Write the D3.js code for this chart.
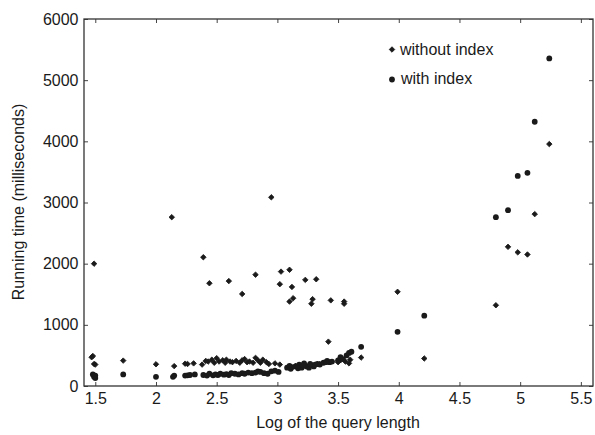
<!DOCTYPE html>
<html>
<head>
<meta charset="utf-8">
<script src="https://cdn.jsdelivr.net/npm/d3@7/dist/d3.min.js"></script>
<style>
  body { margin: 0; background: #fff; }
  svg text { font-family: "Liberation Sans", Arial, sans-serif; fill: #1a1a1a; }
</style>
</head>
<body>
<div id="plot"></div>
<script>
// Running time vs log of query length, two series
const withoutIndex = [
    // outliers
    [1.49, 2000], [2.13, 2760], [2.39, 2105], [2.44, 1680], [2.60, 1715], [2.71, 1505],
    [2.82, 1820], [2.95, 3085], [3.02, 1665], [3.03, 1870], [3.10, 1900], [3.12, 1620],
    [3.10, 1380], [3.13, 1435], [3.23, 1735], [3.32, 1745], [3.28, 1345], [3.29, 1420],
    [3.44, 1400], [3.55, 1345], [3.55, 1380], [3.99, 1540], [4.21, 450], [4.80, 1320],
    [4.90, 2275], [4.98, 2185], [5.06, 2150], [5.12, 2810], [5.24, 3955], [3.42, 725],
    [3.69, 465],
    // low band
    [1.48, 490], [1.47, 470], [1.49, 360], [1.50, 350], [1.73, 415], [2.00, 355],
    [2.15, 325], [2.24, 365], [2.26, 360], [2.31, 370], [2.38, 350], [2.41, 410],
    [2.43, 400], [2.46, 430], [2.48, 380], [2.50, 455], [2.52, 400], [2.55, 420],
    [2.57, 380], [2.58, 430], [2.61, 400], [2.63, 390], [2.66, 410], [2.69, 380],
    [2.71, 420], [2.73, 440], [2.75, 390], [2.77, 400], [2.80, 380], [2.82, 460],
    [2.84, 420], [2.86, 380], [2.88, 430], [2.91, 390], [2.93, 360], [2.98, 370],
    [3.02, 350], [3.50, 390], [3.52, 420], [3.56, 400], [3.60, 430], [3.59, 370],
    [3.15, 330], [3.25, 320], [3.35, 360]
];

const withIndex = [
    [1.48, 190], [1.49, 150], [1.50, 130], [1.50, 170], [1.73, 190], [2.00, 150],
    [2.14, 150], [2.15, 170], [2.24, 170], [2.26, 175], [2.28, 180], [2.32, 190],
    [2.39, 180], [2.42, 170], [2.44, 200], [2.47, 175], [2.49, 190], [2.51, 180],
    [2.53, 200], [2.56, 185], [2.58, 195], [2.60, 180], [2.62, 210], [2.65, 200],
    [2.68, 190], [2.71, 210], [2.73, 200], [2.76, 220], [2.79, 210], [2.82, 220],
    [2.84, 240], [2.86, 230], [2.89, 210], [2.92, 200], [2.95, 240], [2.98, 250],
    [3.01, 230], [3.08, 300], [3.10, 330], [3.11, 280], [3.15, 320], [3.18, 350],
    [3.20, 300], [3.22, 370], [3.24, 320], [3.26, 300], [3.28, 340], [3.30, 320],
    [3.33, 360], [3.35, 350], [3.38, 380], [3.41, 410], [3.43, 390], [3.45, 400],
    [3.50, 420], [3.52, 470], [3.54, 440], [3.57, 500], [3.59, 540], [3.61, 560],
    [3.69, 640], [3.99, 885], [4.21, 1150], [4.80, 2760], [4.90, 2875], [4.98, 3435],
    [5.06, 3485], [5.12, 4320], [5.24, 5355],
    [3.12, 310], [3.17, 290], [3.21, 340], [3.27, 360], [3.31, 350], [3.40, 390]
];

const xTicks = [1.5, 2, 2.5, 3, 3.5, 4, 4.5, 5, 5.5];
const yTicks = [0, 1000, 2000, 3000, 4000, 5000, 6000];
const seriesNames = ["without index", "with index"];

// Chart dimensions
const svgWidth = 595;
const svgHeight = 435;
const margin = { top: 19, right: 2, bottom: 49, left: 84 };
const width = svgWidth - margin.left - margin.right;
const height = svgHeight - margin.top - margin.bottom;

const svg = d3.select("#plot")
    .append("svg")
    .attr("width", svgWidth)
    .attr("height", svgHeight);

const g = svg.append("g")
    .attr("transform", `translate(${margin.left}, ${margin.top})`);

const xScale = d3.scaleLinear().domain([1.407, 5.6]).range([0, width]);
const yScale = d3.scaleLinear().domain([0, 6000]).range([height, 0]);

const fmt = d => String(d);

// Axes, ticks pointing inward
const xAxis = g.append("g")
    .attr("transform", `translate(0, ${height})`)
    .call(d3.axisBottom(xScale).tickValues(xTicks).tickFormat(fmt)
        .tickSize(-4).tickSizeOuter(0).tickPadding(6.6));
const yAxis = g.append("g")
    .call(d3.axisLeft(yScale).tickValues(yTicks).tickFormat(fmt)
        .tickSize(-4).tickSizeOuter(0).tickPadding(5.5));
const xTop = g.append("g")
    .call(d3.axisTop(xScale).tickValues(xTicks).tickFormat("")
        .tickSize(-4).tickSizeOuter(0));
const yRight = g.append("g")
    .attr("transform", `translate(${width}, 0)`)
    .call(d3.axisRight(yScale).tickValues(yTicks).tickFormat("")
        .tickSize(-4).tickSizeOuter(0));

[xAxis, yAxis, xTop, yRight].forEach(a => {
    a.select(".domain").remove();
    a.selectAll(".tick line").attr("stroke", "#444").attr("stroke-width", 1);
    a.selectAll(".tick text")
        .style("font-size", "16px")
        .attr("fill", "#1a1a1a");
});

// Frame
g.append("rect")
    .attr("x", 0)
    .attr("y", 0)
    .attr("width", width)
    .attr("height", height)
    .attr("fill", "none")
    .attr("stroke", "#333")
    .attr("stroke-width", 1.3);

// Markers
const diamond = d3.symbol().type(d3.symbolSquare).size(15);

g.selectAll(".without")
    .data(withoutIndex)
    .enter()
    .append("path")
    .attr("class", "without")
    .attr("d", diamond)
    .attr("transform", d => `translate(${xScale(d[0])}, ${yScale(d[1])}) rotate(45)`)
    .attr("fill", "#1a1a1a")
    .attr("stroke", "#1a1a1a")
    .attr("stroke-width", 0.8);

g.selectAll(".with")
    .data(withIndex)
    .enter()
    .append("circle")
    .attr("class", "with")
    .attr("cx", d => xScale(d[0]))
    .attr("cy", d => yScale(d[1]))
    .attr("r", 2.9)
    .attr("fill", "#1a1a1a");

// Legend
const legend = svg.append("g");
legend.append("path")
    .attr("d", diamond)
    .attr("transform", "translate(392, 49.5) rotate(45)")
    .attr("fill", "#1a1a1a")
    .attr("stroke", "#1a1a1a")
    .attr("stroke-width", 0.8);
legend.append("circle")
    .attr("cx", 392)
    .attr("cy", 79.5)
    .attr("r", 2.9)
    .attr("fill", "#1a1a1a");
legend.selectAll("text")
    .data(seriesNames)
    .enter()
    .append("text")
    .attr("x", (d, i) => i === 0 ? 400 : 401)
    .attr("y", (d, i) => i === 0 ? 55 : 83.5)
    .style("font-size", "16px")
    .text(d => d);

// Axis titles
svg.append("text")
    .attr("x", 338)
    .attr("y", 428)
    .attr("text-anchor", "middle")
    .style("font-size", "16px")
    .text("Log of the query length");

svg.append("text")
    .attr("transform", "translate(24, 202) rotate(-90)")
    .attr("text-anchor", "middle")
    .style("font-size", "16px")
    .text("Running time (milliseconds)");
</script>
</body>
</html>
